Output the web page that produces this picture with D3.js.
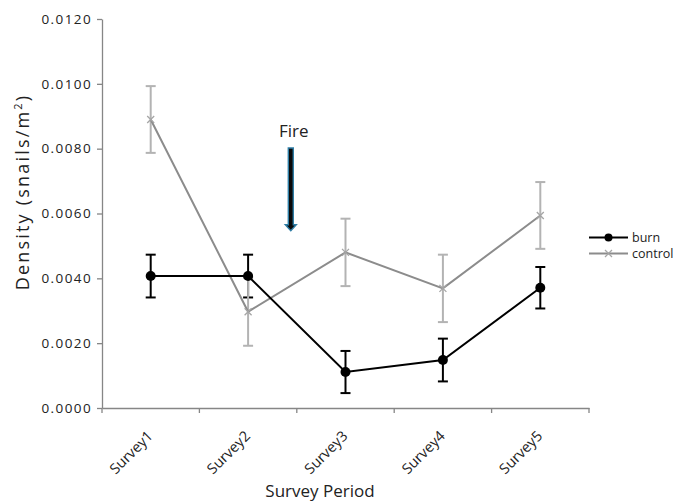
<!DOCTYPE html>
<html><head><meta charset="utf-8">
<script src="https://cdn.jsdelivr.net/npm/d3@7"></script>
<style>body{margin:0;background:#fff}svg{display:block}text{font-family:"Open Sans",sans-serif;fill:#222}</style>
</head><body><svg id="c" width="678" height="504"></svg>
<script>
const categories = ["Survey1","Survey2","Survey3","Survey4","Survey5"];
const burn = [0.00407, 0.00407, 0.00111, 0.00148, 0.00371];
const burnErr = [0.00066, 0.00066, 0.00065, 0.00066, 0.00064];
const control = [0.00890, 0.00297, 0.00480, 0.00369, 0.00594];
const controlErr = [0.00103, 0.00105, 0.00104, 0.00104, 0.00103];
const yTicks = [0, 0.002, 0.004, 0.006, 0.008, 0.010, 0.012];
const seriesNames = ["burn","control"];
const fireLabel = "Fire";
const fireBetween = ["Survey2","Survey3"];

const svg = d3.select("#c");
const mLeft = 102, mRight = 589, mTop = 19, mBottom = 408;
const x = d3.scaleBand().domain(categories).range([mLeft, mRight]);
const y = d3.scaleLinear().domain([0, 0.012]).range([mBottom, mTop]);
const cx = d => x(d) + x.bandwidth()/2;
const axisColor = "#868686";

// y axis
const ya = svg.append("g").attr("transform", `translate(${mLeft},0)`)
  .call(d3.axisLeft(y).tickValues(yTicks).tickFormat(d3.format(".4f")).tickSize(5).tickSizeOuter(0));
ya.select(".domain").attr("stroke", axisColor).attr("stroke-width", 1.3);
ya.selectAll(".tick line").attr("stroke", axisColor).attr("stroke-width", 1.3);
ya.selectAll(".tick text").attr("font-size", 13.5).attr("letter-spacing", 1.4)
  .attr("font-family", "Open Sans").attr("fill", "#222").attr("x", -10);

// x axis
const xa = svg.append("g").attr("transform", `translate(0,${mBottom})`)
  .call(d3.axisBottom(x).tickSize(0).tickSizeOuter(0));
xa.select(".domain").attr("stroke", axisColor).attr("stroke-width", 1.3);
const bounds = categories.map(c => x(c)).concat([mRight]);
svg.append("g").selectAll("line").data(bounds).join("line")
  .attr("x1", d => d).attr("x2", d => d).attr("y1", mBottom).attr("y2", mBottom + 5)
  .attr("stroke", axisColor).attr("stroke-width", 1.3);
xa.selectAll(".tick text")
  .attr("font-size", 14.5).attr("font-family", "Open Sans").attr("fill", "#222")
  .attr("text-anchor", "end").attr("dy", 0).attr("y", 0)
  .attr("transform", "translate(3,29) rotate(-45)");

// axis titles
svg.append("text").attr("x", 320).attr("y", 497).attr("text-anchor", "middle")
  .attr("font-size", 17).text("Survey Period");
const yt = svg.append("text").attr("transform", "translate(29,192) rotate(-90)")
  .attr("text-anchor", "middle").attr("font-size", 18).attr("letter-spacing", 2.2);
yt.append("tspan").text("Density (snails/m");
yt.append("tspan").attr("font-size", 11).attr("dy", -7).text("2");
yt.append("tspan").attr("dy", 7).text(")");

// error bars
function errBars(vals, errs, color, w) {
  const g = svg.append("g");
  vals.forEach((v, i) => {
    const px = cx(categories[i]);
    const y1 = y(v + errs[i]), y2 = y(v - errs[i]);
    g.append("line").attr("x1", px).attr("x2", px).attr("y1", y1).attr("y2", y2).attr("stroke", color).attr("stroke-width", w);
    [y1, y2].forEach(yy => g.append("line").attr("x1", px - 5).attr("x2", px + 5).attr("y1", yy).attr("y2", yy).attr("stroke", color).attr("stroke-width", w));
  });
}
errBars(burn, burnErr, "#000", 2);
errBars(control, controlErr, "#b3b3b3", 2);

const line = d3.line().x((d, i) => cx(categories[i])).y(d => y(d));
svg.append("path").datum(control).attr("d", line).attr("fill", "none").attr("stroke", "#8c8c8c").attr("stroke-width", 2);
svg.append("path").datum(burn).attr("d", line).attr("fill", "none").attr("stroke", "#000").attr("stroke-width", 2);

function xMark(g, px, py, s) {
  g.append("path").attr("d", `M${px-s},${py-s}L${px+s},${py+s}M${px-s},${py+s}L${px+s},${py-s}`)
    .attr("stroke", "#a6a6a6").attr("stroke-width", 1.3).attr("fill", "none");
}
const cm = svg.append("g");
control.forEach((v, i) => xMark(cm, cx(categories[i]), y(v), 3.5));
svg.append("g").selectAll("circle").data(burn).join("circle")
  .attr("cx", (d, i) => cx(categories[i])).attr("cy", d => y(d)).attr("r", 5).attr("fill", "#000");

// Fire arrow
const ax = x(fireBetween[1]) - 6;
const aTop = y(0.00802), aBot = y(0.00547);
svg.append("path")
  .attr("d", `M${ax-2.5},${aTop}L${ax+2.5},${aTop}L${ax+2.5},${aBot-6}L${ax+5.5},${aBot-6}L${ax},${aBot}L${ax-5.5},${aBot-6}L${ax-2.5},${aBot-6}Z`)
  .attr("fill", "#0a0a0a").attr("stroke", "#2f7ea6").attr("stroke-width", 1.4);
svg.append("text").attr("x", ax + 3).attr("y", 137).attr("text-anchor", "middle").attr("font-size", 17).text(fireLabel);

// legend
const lg = svg.append("g");
const lx1 = 589, lx2 = 628;
[[237.5, "#000", seriesNames[0]], [253.5, "#8c8c8c", seriesNames[1]]].forEach(([ly, col, name], i) => {
  lg.append("line").attr("x1", lx1).attr("x2", lx2).attr("y1", ly).attr("y2", ly).attr("stroke", col).attr("stroke-width", 2);
  if (i === 0) lg.append("circle").attr("cx", (lx1 + lx2)/2).attr("cy", ly).attr("r", 4).attr("fill", "#000");
  else xMark(lg, (lx1 + lx2)/2, ly, 3.5);
  lg.append("text").attr("x", 632).attr("y", ly + 4.5).attr("font-size", 12.5).text(name);
});
</script></body></html>
